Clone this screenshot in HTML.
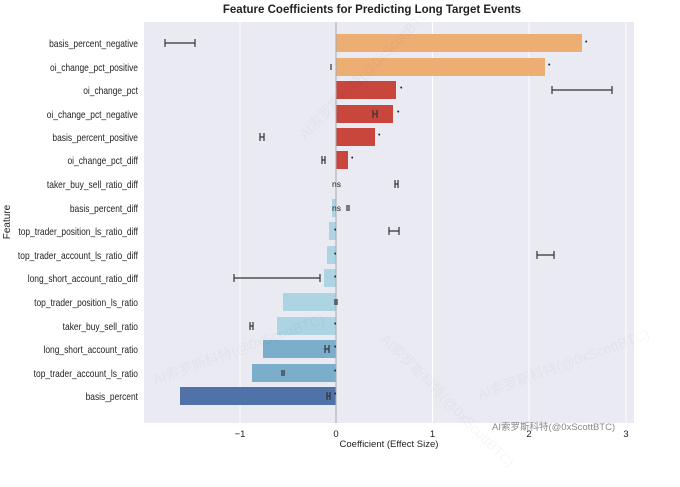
<!DOCTYPE html>
<html><head><meta charset="utf-8"><style>
body{margin:0;background:#fff;}
svg text{font-family:"Liberation Sans","Noto Sans CJK SC",sans-serif;}
</style></head><body>
<svg width="680" height="482" viewBox="0 0 680 482" xmlns="http://www.w3.org/2000/svg">
<rect width="680" height="482" fill="#fff"/>
<text x="372" y="13" text-anchor="middle" font-size="11.5" font-weight="bold" fill="#222">Feature Coefficients for Predicting Long Target Events</text>
<rect x="144" y="22" width="490" height="401" fill="#EAEAF2"/>
<g stroke="#fff" stroke-width="1">
<line x1="240" y1="22" x2="240" y2="423"/><line x1="432.5" y1="22" x2="432.5" y2="423"/>
<line x1="529" y1="22" x2="529" y2="423"/><line x1="626" y1="22" x2="626" y2="423"/>
</g>
<g>
<rect x="336" y="34" width="246" height="18" fill="#EDAE74"/>
<rect x="336" y="58" width="209" height="18" fill="#EDAE74"/>
<rect x="336" y="81" width="60" height="18" fill="#C9463D"/>
<rect x="336" y="105" width="57" height="18" fill="#C9463D"/>
<rect x="336" y="128" width="39" height="18" fill="#C9463D"/>
<rect x="336" y="151" width="12" height="18" fill="#C9463D"/>
<rect x="332" y="199" width="4" height="18" fill="#ADD4E3"/>
<rect x="329" y="222" width="7" height="18" fill="#ADD4E3"/>
<rect x="327" y="246" width="9" height="18" fill="#ADD4E3"/>
<rect x="324" y="269" width="12" height="18" fill="#ADD4E3"/>
<rect x="283" y="293" width="53" height="18" fill="#ADD4E3"/>
<rect x="277" y="317" width="59" height="18" fill="#ADD4E3"/>
<rect x="263" y="340" width="73" height="18" fill="#7AAECB"/>
<rect x="252" y="364" width="84" height="18" fill="#7AAECB"/>
<rect x="180" y="387" width="156" height="18" fill="#4F73A9"/>
</g>
<line x1="336" y1="22" x2="336" y2="423" stroke="#aaa" stroke-width="1"/>
<g stroke="#333" stroke-width="1.2" fill="none">
<path d="M165 43H195M165 39V47M195 39V47"/>
<path d="M331 64V70"/>
<path d="M552 90H612M552 86V94M612 86V94"/>
<path d="M373 114H377M373 110V118M377 110V118"/>
<path d="M260 137H264M260 133V141M264 133V141"/>
<path d="M322 160H325M322 156V164M325 156V164"/>
<path d="M395 184H398M395 180V188M398 180V188"/>
<path d="M347 205V211M349 205V211"/>
<path d="M389 231H399M389 227V235M399 227V235"/>
<path d="M537 255H554M537 251V259M554 251V259"/>
<path d="M234 278H320M234 274V282M320 274V282"/>
<path d="M335 299V305M337 299V305"/>
<path d="M250 326H253M250 322V330M253 322V330"/>
<path d="M325 349H329M325 345V353M329 345V353"/>
<path d="M282 370V376M284 370V376"/>
<path d="M327 396H330M327 392V400M330 392V400"/>
</g>
<g font-size="7" fill="#222">
<text x="585" y="44">•</text><text x="548" y="67">•</text><text x="400" y="90">•</text>
<text x="397" y="114">•</text><text x="378" y="137">•</text><text x="351" y="160">•</text>
<text x="334" y="232">•</text><text x="334" y="256">•</text><text x="334" y="279">•</text>
<text x="334" y="326">•</text><text x="334" y="349">•</text><text x="334" y="373">•</text><text x="334" y="396">•</text>
</g>
<text x="332" y="187" font-size="8.5" fill="#222">ns</text>
<text x="332" y="211" font-size="8.5" fill="#222">ns</text>
<g font-size="9.8" fill="#222" text-anchor="end" transform="translate(138 0) scale(0.86 1) translate(-138 0)">
<text x="138" y="47">basis_percent_negative</text>
<text x="138" y="71">oi_change_pct_positive</text>
<text x="138" y="94">oi_change_pct</text>
<text x="138" y="118">oi_change_pct_negative</text>
<text x="138" y="141">basis_percent_positive</text>
<text x="138" y="164">oi_change_pct_diff</text>
<text x="138" y="188">taker_buy_sell_ratio_diff</text>
<text x="138" y="212">basis_percent_diff</text>
<text x="138" y="235">top_trader_position_ls_ratio_diff</text>
<text x="138" y="259">top_trader_account_ls_ratio_diff</text>
<text x="138" y="282">long_short_account_ratio_diff</text>
<text x="138" y="306">top_trader_position_ls_ratio</text>
<text x="138" y="330">taker_buy_sell_ratio</text>
<text x="138" y="353">long_short_account_ratio</text>
<text x="138" y="377">top_trader_account_ls_ratio</text>
<text x="138" y="400">basis_percent</text>
</g>
<g font-size="9.5" fill="#222" text-anchor="middle">
<text x="240" y="437">−1</text><text x="336" y="437">0</text><text x="432.5" y="437">1</text>
<text x="529" y="437">2</text><text x="626" y="437">3</text>
<text x="389" y="447">Coefficient (Effect Size)</text>
</g>
<text x="10" y="222" font-size="10" fill="#222" text-anchor="middle" transform="rotate(-90 10 222)">Feature</text>
<g font-size="14" fill="#000" fill-opacity="0.035">
<text x="155" y="385" transform="rotate(-20 155 385)">AI索罗斯科特(@0xScottBTC)</text>
<text x="380" y="340" transform="rotate(45 380 340)">AI索罗斯科特(@0xScottBTC)</text>
<text x="480" y="400" transform="rotate(-20 480 400)">AI索罗斯科特(@0xScottBTC)</text>
<text x="305" y="140" transform="rotate(-45 305 140)">AI索罗斯科特(@0xScottBTC)</text>
</g>
<text x="492" y="430" font-size="9.5" fill="#888">AI索罗斯科特(@0xScottBTC)</text>
</svg>
</body></html>
